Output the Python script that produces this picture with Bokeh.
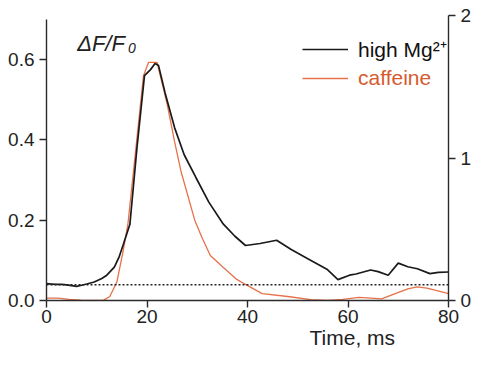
from bokeh.plotting import figure
from bokeh.models import (Range1d, LinearAxis, FixedTicker, PrintfTickFormatter,
                          Span, Label, Legend, LegendItem, Title)
from bokeh.embed import file_html
from bokeh.resources import INLINE

# ---- data ----
mg_t = [0, 1, 2, 3, 4, 5, 6, 7, 8, 9.5, 11, 12, 13.5, 14.5, 15.3, 16.6, 18.0,
        19.5, 20.7, 21.6, 22.3, 23.6, 25.5, 27.4, 29.7, 32.3, 35.2, 37.5, 39.6,
        42.5, 45.8, 48.7, 52, 55.8, 58, 60.3, 61.6, 64.5, 66, 68, 70, 71.9,
        73.8, 76.3, 78, 80]
mg_v = [0.042, 0.041, 0.040, 0.040, 0.039, 0.037, 0.035, 0.038, 0.041, 0.046,
        0.055, 0.063, 0.083, 0.110, 0.140, 0.190, 0.380, 0.560, 0.575, 0.590,
        0.585, 0.517, 0.430, 0.363, 0.307, 0.245, 0.190, 0.160, 0.137, 0.142,
        0.150, 0.127, 0.104, 0.078, 0.052, 0.063, 0.066, 0.076, 0.072, 0.063,
        0.093, 0.084, 0.079, 0.067, 0.070, 0.071]

caf_t = [0, 2.3, 4.5, 6.8, 9, 11.4, 12.6, 14, 15.2, 16.2, 17.8, 19.3, 20.3, 22,
         24, 25.5, 26.8, 29.5, 31, 32.6, 35.2, 37.7, 39.6, 42.9, 48, 52.6, 56,
         59, 62.2, 64.5, 66.7, 69.4, 71.9, 73.8, 75.7, 77.5, 80]
caf_v = [0.006, 0.006, 0.003, 0.001, 0.000, 0.001, 0.010, 0.046, 0.120, 0.190,
         0.380, 0.560, 0.593, 0.593, 0.490, 0.395, 0.320, 0.200, 0.155, 0.112,
         0.082, 0.054, 0.040, 0.017, 0.010, 0.002, 0.000, 0.003, 0.008, 0.006,
         0.004, 0.017, 0.029, 0.034, 0.031, 0.025, 0.017]

baseline_level = 0.039
x_ticks = [0, 20, 40, 60, 80]
left_ticks = [0, 0.2, 0.4, 0.6]
right_ticks = [0, 1, 2]

FONT = "Liberation Sans"
AX = "#2a2a2a"
TXT = "#222222"
ORANGE_LINE = "#e6714a"
ORANGE_TEXT = "#d65a30"

p = figure(width=474, height=350, output_backend="svg", toolbar_location=None,
           x_range=Range1d(0, 80), y_range=Range1d(0, 0.7098),
           min_border_left=46, min_border_right=24, min_border_top=15,
           min_border_bottom=50, x_axis_location=None, y_axis_location=None)
p.extra_y_ranges = {"right": Range1d(0, 2.0)}
p.outline_line_color = None
p.xgrid.visible = False
p.ygrid.visible = False
p.background_fill_color = "white"


def style(ax, size="19px", standoff=5):
    ax.axis_line_color = AX
    ax.axis_line_width = 1.4
    ax.major_tick_line_color = AX
    ax.major_tick_line_width = 1.4
    ax.major_tick_in = 0
    ax.major_tick_out = 7
    ax.minor_tick_line_color = None
    ax.major_label_text_font = FONT
    ax.major_label_text_font_size = size
    ax.major_label_text_color = TXT
    ax.major_label_standoff = standoff


xax = LinearAxis(ticker=FixedTicker(ticks=x_ticks), bounds=(0, 80))
style(xax, standoff=2)
p.add_layout(xax, "below")

p.add_layout(Title(text="Time, ms", align="left", offset=263, standoff=0,
                   text_font=FONT, text_font_size="21px", text_font_style="normal",
                   text_color=TXT, vertical_align="top"), "below")

lax = LinearAxis(ticker=FixedTicker(ticks=left_ticks),
                 formatter=PrintfTickFormatter(format="%.1f"), bounds=(0, 0.70))
style(lax, standoff=5)
p.add_layout(lax, "left")

rax = LinearAxis(y_range_name="right", ticker=FixedTicker(ticks=right_ticks),
                 bounds=(0, 2))
style(rax, standoff=5)
p.add_layout(rax, "right")

p.add_layout(Span(location=baseline_level, dimension="width", line_color=TXT,
                  line_width=1.5, line_dash="2 2"))

r_caf = p.line(caf_t, caf_v, line_color=ORANGE_LINE, line_width=1.3)
r_mg = p.line(mg_t, mg_v, line_color="#1a1a1a", line_width=1.7)

for item_label, rend, col, loc in [("high Mg\u00b2\u207a", r_mg, "#111111", (256, 237)),
                                   ("caffeine", r_caf, ORANGE_TEXT, (256, 210))]:
    lg = Legend(items=[LegendItem(label=item_label, renderers=[rend])],
                location=loc, padding=0, margin=0, border_line_color=None,
                background_fill_alpha=0, glyph_width=46, glyph_height=22,
                label_height=22, label_standoff=10, spacing=0,
                label_text_font=FONT, label_text_font_size="21px",
                label_text_color=col)
    p.add_layout(lg, "center")

p.add_layout(Label(x=6.1, y=257, x_units="data", y_units="screen",
                   text="\u0394F/F", text_font=FONT, text_font_style="italic",
                   text_font_size="22px", text_color=TXT,
                   text_baseline="alphabetic"))
p.add_layout(Label(x=16.2, y=253, x_units="data", y_units="screen",
                   text="0", text_font=FONT, text_font_style="italic",
                   text_font_size="14px", text_color=TXT,
                   text_baseline="alphabetic"))

open("out.html", "w").write(file_html(p, INLINE))
